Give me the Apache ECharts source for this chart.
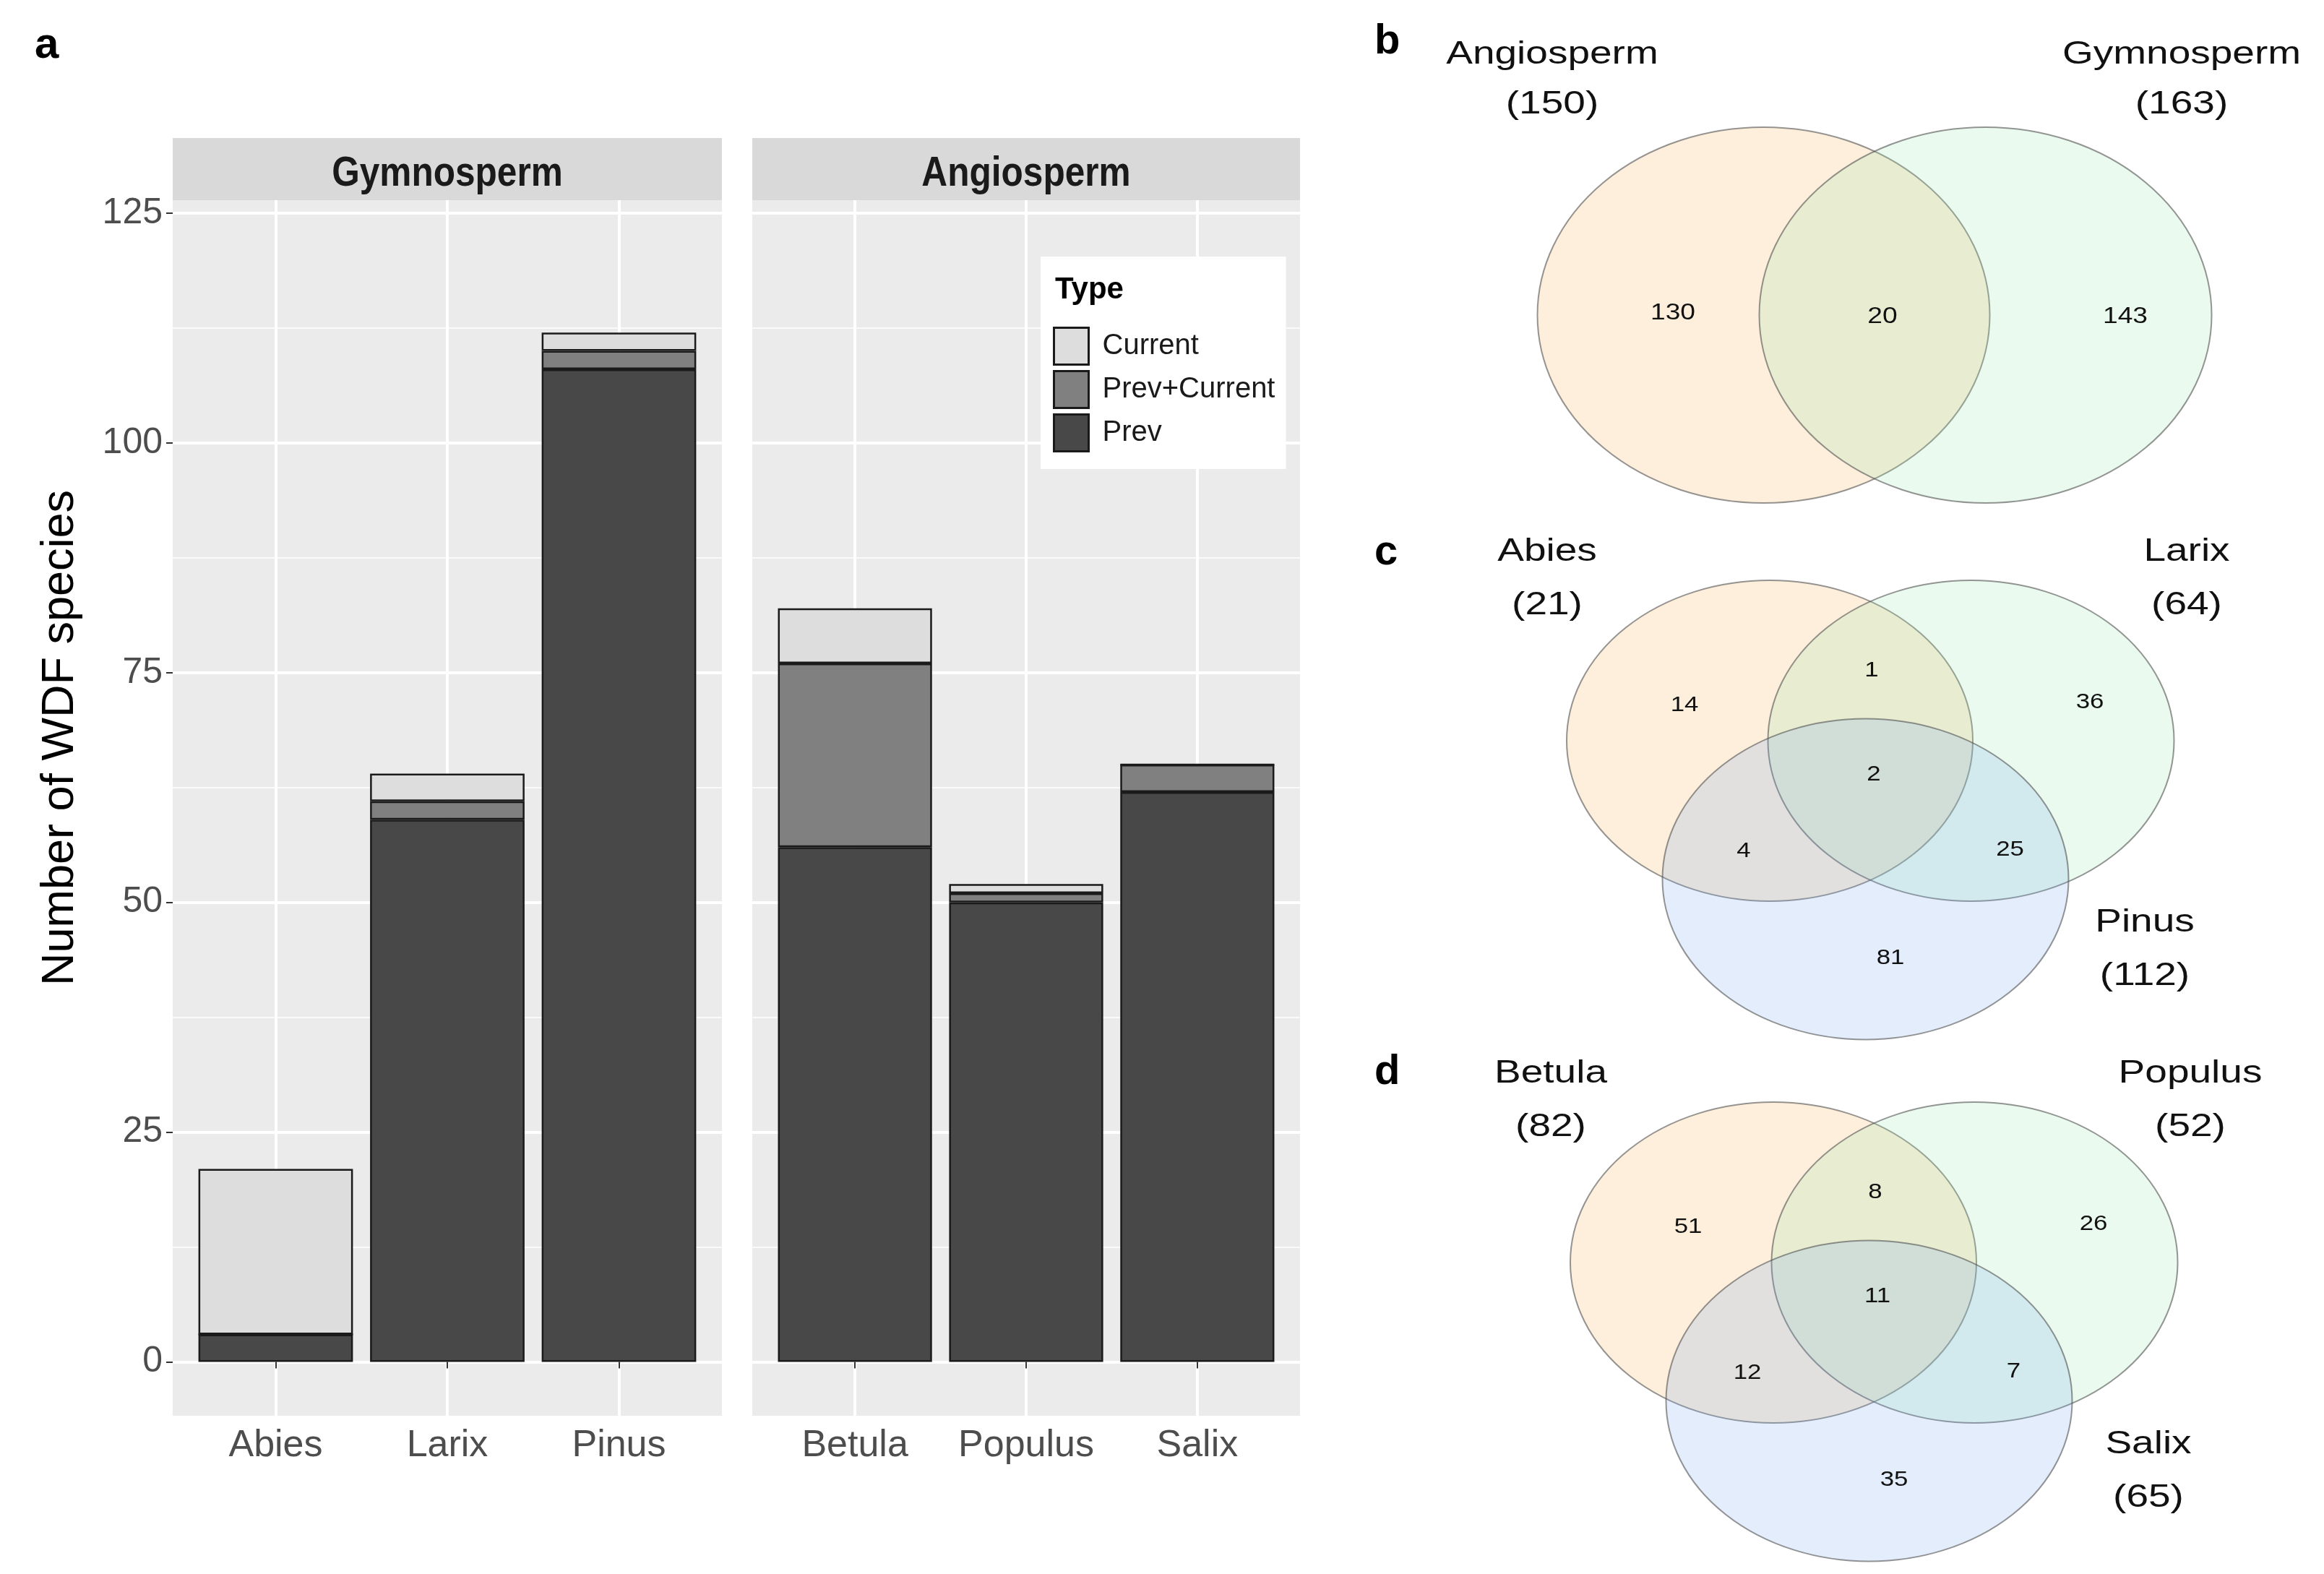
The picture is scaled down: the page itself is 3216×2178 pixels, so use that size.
<!DOCTYPE html>
<html>
<head>
<meta charset="utf-8">
<script src="https://cdn.jsdelivr.net/npm/echarts@6/dist/echarts.min.js"></script>
<style>
html,body{margin:0;padding:0;background:#ffffff;}
#main{width:3216px;height:2178px;}
</style>
</head>
<body>
<div id="main"></div>
<script>
// ---------------- DATA ----------------
const gymnoGenera = ['Abies', 'Larix', 'Pinus'];
const angioGenera = ['Betula', 'Populus', 'Salix'];
const typeNames = ['Prev', 'Prev+Current', 'Current'];
const legendOrder = ['Current', 'Prev+Current', 'Prev'];
const gymnoPrev = [3, 59, 108];
const gymnoPrevCurrent = [0, 2, 2];
const gymnoCurrent = [18, 3, 2];
const angioPrev = [56, 50, 62];
const angioPrevCurrent = [20, 1, 3];
const angioCurrent = [6, 1, 0];
const yTicks = [0, 25, 50, 75, 100, 125];
const yMinorTicks = [12.5, 37.5, 62.5, 87.5, 112.5];

const vennBNames = ['Angiosperm', 'Gymnosperm'];
const vennBTotals = [150, 163];
const vennBCounts = [130, 20, 143];              // A only, A&B, B only
const vennCNames = ['Abies', 'Larix', 'Pinus'];
const vennCTotals = [21, 64, 112];
const vennCCounts = [14, 1, 36, 2, 4, 25, 81];   // A, AB, B, ABC, AC, BC, C
const vennDNames = ['Betula', 'Populus', 'Salix'];
const vennDTotals = [82, 52, 65];
const vennDCounts = [51, 8, 26, 11, 12, 7, 35];

// ---------------- STYLE / LAYOUT ----------------
const SANS = "'Liberation Sans', Arial, sans-serif";
const typeColors = {'Prev': '#484848', 'Prev+Current': '#808080', 'Current': '#DDDDDD'};
const Y_RANGE = [-5.85, 126.4];
const X_RANGE = [0.4, 3.6];
const panels = [
  {name: 'Gymnosperm', left: 239, width: 760, genera: gymnoGenera,
   values: {'Prev': gymnoPrev, 'Prev+Current': gymnoPrevCurrent, 'Current': gymnoCurrent}},
  {name: 'Angiosperm', left: 1041, width: 758, genera: angioGenera,
   values: {'Prev': angioPrev, 'Prev+Current': angioPrevCurrent, 'Current': angioCurrent}}
];
const PANEL_TOP = 277, PANEL_H = 1682, STRIP_TOP = 191, STRIP_H = 86;

const venn2Template = {
  ellipses: [[-153.5, 0], [153.5, 0]], rx: 313, ry: 260,
  regions: [[-279, -3], [11, 2], [347, 2]],
  names: [[-446, -360, -291], [425, -360, -291]]
};
const venn3Template = {
  ellipses: [[-137, -64], [141.5, -64], [-4.5, 127.5]], rx: 281, ry: 222,
  regions: [[-255, -113.5], [4, -161], [306, -117.5], [7, -17.5], [-173, 88.5], [195.5, 86.5], [30, 237]],
  names: [[-445, -325, -251], [440, -325, -251], [382, 188, 262]]
};
const vennFills = ['rgba(245,175,80,0.2)', 'rgba(150,228,170,0.2)', 'rgba(115,165,235,0.2)'];
const vennPanels = [
  {letter: 'b', letterY: 58, center: [2594, 436], tpl: venn2Template, names: vennBNames, totals: vennBTotals, counts: vennBCounts, numSize: 31},
  {letter: 'c', letterY: 765, center: [2586, 1089], tpl: venn3Template, names: vennCNames, totals: vennCTotals, counts: vennCCounts, numSize: 29},
  {letter: 'd', letterY: 1484, center: [2591, 1811], tpl: venn3Template, names: vennDNames, totals: vennDTotals, counts: vennDCounts, numSize: 29}
];

// ---------------- BUILD ----------------
const grid = [], xAxis = [], yAxis = [], series = [], graphic = [];

panels.forEach((p, pi) => {
  const unit = p.width / (X_RANGE[1] - X_RANGE[0]);
  const gU = grid.length;
  grid.push({left: p.left, top: PANEL_TOP, width: p.width, height: PANEL_H, show: true,
             backgroundColor: '#EBEBEB', borderWidth: 0});
  const gB = grid.length;
  grid.push({left: p.left + (1 - X_RANGE[0] - 0.5) * unit, top: PANEL_TOP,
             width: 3 * unit, height: PANEL_H, show: false});

  xAxis.push({gridIndex: gU, type: 'value', min: X_RANGE[0], max: X_RANGE[1],
    axisLine: {show: false}, axisLabel: {show: false},
    axisTick: {show: false, customValues: [1, 2, 3]},
    splitLine: {show: true, lineStyle: {color: '#FFFFFF', width: 4}}});
  const xB = xAxis.length;
  xAxis.push({gridIndex: gB, type: 'category', data: p.genera,
    axisLine: {show: false},
    axisTick: {show: true, alignWithLabel: true, length: 9, lineStyle: {color: '#333333', width: 2}},
    axisLabel: {show: true, interval: 0, fontSize: 52, fontFamily: SANS, color: '#4D4D4D', margin: 16},
    splitLine: {show: false}});

  yAxis.push({gridIndex: gU, type: 'value', min: Y_RANGE[0], max: Y_RANGE[1],
    axisLine: {show: false},
    axisTick: {show: pi === 0, customValues: yTicks, length: 9, lineStyle: {color: '#333333', width: 2}},
    axisLabel: {show: pi === 0, customValues: yTicks, fontSize: 50, fontFamily: SANS, color: '#4D4D4D', margin: 14},
    splitLine: {show: true, lineStyle: {color: '#FFFFFF', width: 4}}});
  yAxis.push({gridIndex: gU, type: 'value', min: Y_RANGE[0], max: Y_RANGE[1], position: 'left',
    axisLine: {show: false}, axisLabel: {show: false},
    axisTick: {show: false, customValues: yMinorTicks},
    splitLine: {show: true, lineStyle: {color: '#FAFAFA', width: 2}}});
  const yB = yAxis.length;
  yAxis.push({gridIndex: gB, type: 'value', min: Y_RANGE[0], max: Y_RANGE[1], show: false,
    splitLine: {show: false}});

  typeNames.forEach(t => {
    series.push({type: 'bar', name: t, xAxisIndex: xB, yAxisIndex: yB, stack: 'panel' + pi,
      barWidth: '90%', data: p.values[t],
      itemStyle: {color: typeColors[t], borderColor: '#1A1A1A', borderWidth: 2.5},
      emphasis: {disabled: true}, silent: true});
  });

  graphic.push({type: 'rect', shape: {x: p.left, y: STRIP_TOP, width: p.width, height: STRIP_H},
    style: {fill: '#D9D9D9'}, z: 1});
  graphic.push({type: 'text', x: p.left + p.width / 2, y: STRIP_TOP + 50, scaleX: 0.87,
    style: {text: p.name, fontSize: 57, fontWeight: 'bold', fontFamily: SANS, fill: '#1A1A1A',
            align: 'center', verticalAlign: 'middle'}, z: 2});
});

// venn coordinate system (hidden)
const gV = grid.length;
grid.push({left: 0, top: 0, width: 3216, height: 2178, show: false});
const xV = xAxis.length;
xAxis.push({gridIndex: gV, type: 'value', min: 0, max: 3216, show: false});
const yV = yAxis.length;
yAxis.push({gridIndex: gV, type: 'value', min: 0, max: 2178, inverse: true, show: false});

vennPanels.forEach(vp => {
  const cx = vp.center[0], cy = vp.center[1];
  const ell = vp.tpl.ellipses.map((e, i) => [cx + e[0], cy + e[1], i]);
  series.push({type: 'custom', xAxisIndex: xV, yAxisIndex: yV, silent: true, z: 3,
    data: ell,
    renderItem: (params, api) => {
      const c = api.coord([api.value(0), api.value(1)]);
      const s = api.size([vp.tpl.rx, vp.tpl.ry]);
      const rx = s[0], ry = s[1];
      const d = 'M ' + (c[0] - rx) + ' ' + c[1] +
                ' A ' + rx + ' ' + ry + ' 0 1 0 ' + (c[0] + rx) + ' ' + c[1] +
                ' A ' + rx + ' ' + ry + ' 0 1 0 ' + (c[0] - rx) + ' ' + c[1] + ' Z';
      return {type: 'path', shape: {pathData: d},
              style: {fill: vennFills[api.value(2)], stroke: 'rgba(80,80,80,0.6)', lineWidth: 2}};
    }});
  const labels = [];
  vp.tpl.regions.forEach((r, i) => labels.push({x: cx + r[0], y: cy + r[1], text: String(vp.counts[i]),
    size: vp.numSize, scale: 1.2}));
  vp.tpl.names.forEach((n, i) => {
    labels.push({x: cx + n[0], y: cy + n[1], text: vp.names[i], size: 44, scale: 1.25});
    labels.push({x: cx + n[0], y: cy + n[2], text: '(' + vp.totals[i] + ')', size: 44, scale: 1.25});
  });
  series.push({type: 'custom', xAxisIndex: xV, yAxisIndex: yV, silent: true, z: 5,
    data: labels.map(l => [l.x, l.y]),
    renderItem: (params, api) => {
      const l = labels[params.dataIndex];
      const c = api.coord([api.value(0), api.value(1)]);
      return {type: 'text', x: c[0], y: c[1], scaleX: l.scale,
        style: {text: l.text, fontSize: l.size, fontFamily: SANS, fill: '#111111',
                align: 'center', verticalAlign: 'middle'}};
    }});
  graphic.push({type: 'text', x: 1902, y: vp.letterY,
    style: {text: vp.letter, fontSize: 58, fontWeight: 'bold', fontFamily: SANS, fill: '#000000',
            align: 'left', verticalAlign: 'middle'}, z: 10});
});

graphic.push({type: 'text', x: 48, y: 63,
  style: {text: 'a', fontSize: 60, fontWeight: 'bold', fontFamily: SANS, fill: '#000000',
          align: 'left', verticalAlign: 'middle'}, z: 10});
graphic.push({type: 'text', x: 84, y: 1021, rotation: Math.PI / 2,
  style: {text: 'Number of WDF species', fontSize: 63, fontFamily: SANS, fill: '#000000',
          align: 'center', verticalAlign: 'middle'}, z: 10});
graphic.push({type: 'text', x: 1460, y: 401,
  style: {text: 'Type', fontSize: 42, fontWeight: 'bold', fontFamily: SANS, fill: '#000000',
          align: 'left', verticalAlign: 'middle'}, z: 100});

const option = {
  animation: false,
  backgroundColor: '#FFFFFF',
  textStyle: {fontFamily: SANS},
  grid: grid,
  xAxis: xAxis,
  yAxis: yAxis,
  legend: {
    data: legendOrder, orient: 'vertical', left: 1440, top: 355,
    padding: [97, 15, 23, 17], itemWidth: 48, itemHeight: 51, itemGap: 6,
    icon: 'rect', backgroundColor: '#FFFFFF', selectedMode: false,
    itemStyle: {borderColor: '#1A1A1A', borderWidth: 3},
    textStyle: {fontSize: 40, fontFamily: SANS, color: '#1A1A1A', padding: [0, 0, 0, 14]}
  },
  graphic: graphic,
  series: series
};

const chart = echarts.init(document.getElementById('main'));
chart.setOption(option);
</script>
</body>
</html>
